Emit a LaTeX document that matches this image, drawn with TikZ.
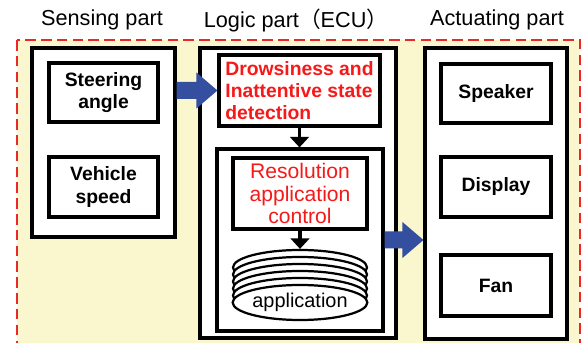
\documentclass[tikz,border=0pt]{standalone}
\usepackage{fontspec}
\setmainfont{Liberation Sans}
\newfontfamily\cjk{Noto Sans CJK JP}
\usetikzlibrary{calc,arrows.meta,shapes.geometric}
\definecolor{framered}{RGB}{235,40,40}
\definecolor{paleyellow}{RGB}{250,246,206}
\definecolor{arrowblue}{RGB}{52,78,160}
\definecolor{textred}{RGB}{245,25,25}
\def\px{0.03cm}
\def\fatarrow(#1)(#2){\fill[arrowblue] ($(#1)+(0,-8.5)$) -- ($(#2)+(-21,-8.5)$) -- ($(#2)+(-21,-18)$) -- (#2) -- ($(#2)+(-21,18)$) -- ($(#2)+(-21,8.5)$) -- ($(#1)+(0,8.5)$) -- cycle;}
\tikzset{
  outerbox/.style={draw, line width=2.7pt, fill=white, inner sep=0pt},
  itembox/.style={draw, line width=2.7pt, fill=white, align=center, inner sep=0pt, font=\fontsize{16.5}{19.5}\selectfont\bfseries},
  heading/.style={font=\fontsize{18.5}{20}\selectfont},
  disk/.style={ellipse, draw, line width=1.9pt, fill=white, minimum width=134*\px, minimum height=35*\px, inner sep=0pt},
  downarrow/.style={line width=2.7pt, -{Triangle[length=9pt,width=16pt]}},
}
\begin{document}
\begin{tikzpicture}[x=\px, y=-\px]
		%%%%% FRAME %%%%%
		\useasboundingbox (0,0) rectangle (582,343);
		\clip (0,0) rectangle (582,343);
		\draw[framered, line width=1.7pt, dash pattern=on 9pt off 4.5pt, fill=paleyellow] (17,40) rectangle (580,380);
		
		\node[heading] (hsense) at (102,20) {Sensing part};
		\node[heading] (hlogic) at (296,20) {Logic part{\cjk （}ECU{\cjk ）}};
		\node[heading] (hact) at (497,20) {Actuating part};
		
		%%%%% SENSING %%%%%
		\node[outerbox, minimum width=143*\px, minimum height=189*\px] (sense) at (103.5,142.5) {};
		\node[itembox, minimum width=109*\px, minimum height=59*\px] (steer) at (103.5,92.5) {Steering\\angle};
		\node[itembox, minimum width=109*\px, minimum height=60*\px] (speed) at (103.5,187) {Vehicle\\speed};
		
		%%%%% LOGIC %%%%%
		\node[outerbox, minimum width=196*\px, minimum height=290*\px] (logic) at (298,193) {};
		\node[itembox, align=left, text=textred, minimum width=161*\px, minimum height=71*\px, font=\fontsize{16.5}{19}\selectfont\bfseries] (drowsy) at (299.5,90.5) {Drowsiness and\\Inattentive state\\detection};
		\node[outerbox, minimum width=166*\px, minimum height=182*\px] (inner) at (300,240) {};
		\node[itembox, text=textred, minimum width=134*\px, minimum height=71*\px, font=\fontsize{18}{19}\selectfont] (resol) at (300,193.5) {Resolution\\application\\control};
		
		\foreach \i/\y in {1/267.5,2/274.5,3/281.5,4/288.5,5/295.5}
			\node[disk] (disk\i) at (300,\y) {};
		\node[disk, font=\fontsize{17}{18}\selectfont] (app) at (300,302.5) {application};
		
		\draw[downarrow] (drowsy.south) -- (drowsy.south |- inner.north);
		\draw[downarrow] (resol.south) -- (disk1.north);
		
		%%%%% ACTUATING %%%%%
		\node[outerbox, minimum width=142*\px, minimum height=291*\px] (act) at (496,193.5) {};
		\node[itembox, minimum width=110*\px, minimum height=59*\px] (speaker) at (496,93.5) {Speaker};
		\node[itembox, minimum width=110*\px, minimum height=60*\px] (display) at (496,187) {Display};
		\node[itembox, minimum width=110*\px, minimum height=61*\px] (fan) at (496,285.5) {Fan};
		
		%%%%% BLUE ARROWS %%%%%
		\coordinate (a1) at (sense.east |- drowsy.west);
		\fatarrow(a1)(drowsy.west)
		\coordinate (a2) at (inner.east -| act.west);
		\fatarrow(inner.east)(a2)
		%%%%% END %%%%%
\end{tikzpicture}
\end{document}
